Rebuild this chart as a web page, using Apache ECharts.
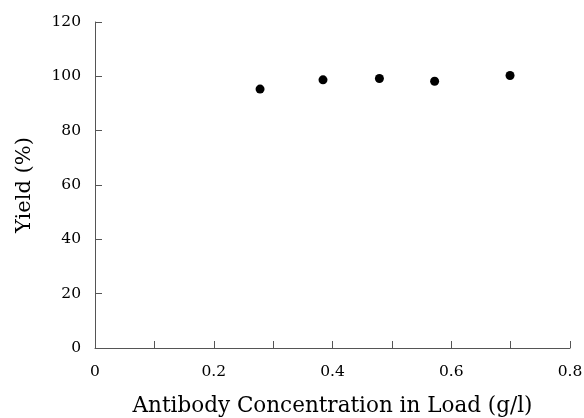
<!DOCTYPE html>
<html>
<head>
<meta charset="utf-8">
<script src="https://cdn.jsdelivr.net/npm/echarts@6/dist/echarts.min.js"></script>
<style>
  html, body { margin: 0; padding: 0; background: #fff; }
  #chart { width: 584px; height: 418px; }
</style>
</head>
<body>
<div id="chart"></div>
<script>
// antibody concentration in load (g/l) and yield (%)
const concentration = [0.278, 0.384, 0.479, 0.572, 0.699];
const yieldPct = [95.3, 98.7, 99.2, 98.2, 100.3];

const xTicks = { min: 0, max: 0.8, step: 0.1 };
const yTicks = { min: 0, max: 120, step: 20 };

const FONT = 'DejaVu Serif';
const axisGrey = '#555';

const chart = echarts.init(document.getElementById('chart'));

chart.setOption({
  animation: false,
  backgroundColor: '#fff',
  grid: { left: 95, right: 14, top: 22, bottom: 70, outerBoundsMode: 'none' },
  xAxis: {
    type: 'value',
    min: xTicks.min,
    max: xTicks.max,
    interval: xTicks.step,
    name: 'Antibody Concentration in Load (g/l)',
    nameLocation: 'middle',
    nameGap: 47,
    nameTextStyle: { fontFamily: FONT, fontSize: 21.5, color: '#000' },
    axisLine: { lineStyle: { color: axisGrey, width: 1 } },
    axisTick: { inside: true, length: 7, lineStyle: { color: axisGrey } },
    splitLine: { show: false },
    axisLabel: {
      margin: 16,
      fontFamily: FONT,
      fontSize: 15.5,
      color: '#000',
      formatter: (v) => {
        const k = Math.round(v * 10);
        if (k % 2 !== 0) return '';
        return k === 0 ? '0' : (k / 10).toFixed(1);
      }
    }
  },
  yAxis: {
    type: 'value',
    min: yTicks.min,
    max: yTicks.max,
    interval: yTicks.step,
    name: 'Yield (%)',
    nameLocation: 'middle',
    nameGap: 60,
    nameTextStyle: { fontFamily: FONT, fontSize: 21, color: '#000' },
    axisLine: { show: true, lineStyle: { color: axisGrey, width: 1 } },
    axisTick: { show: true, inside: true, length: 7, lineStyle: { color: axisGrey } },
    splitLine: { show: false },
    axisLabel: { margin: 14, fontFamily: FONT, fontSize: 15.5, color: '#000' }
  },
  series: [{
    type: 'scatter',
    data: concentration.map((c, i) => [c, yieldPct[i]]),
    symbol: 'circle',
    symbolSize: 9,
    itemStyle: { color: '#000', opacity: 1 }
  }]
});
</script>
</body>
</html>
